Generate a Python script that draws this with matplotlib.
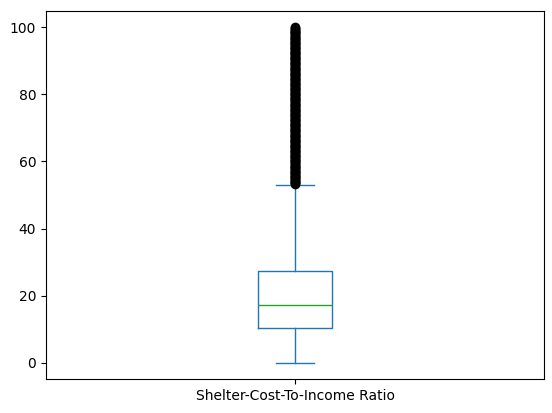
#!/usr/bin/env python3
import matplotlib
matplotlib.use('Agg')
import matplotlib.pyplot as plt

label = 'Shelter-Cost-To-Income Ratio'
whisker_low = 0.0
q1 = 10.2
median = 17.3
q3 = 27.3
whisker_high = 52.9
# outliers (they overlap into one solid bar)
fliers = [
    53.3, 53.5, 53.75, 54, 54.25, 54.5, 54.75, 55, 55.25, 55.5, 55.75,
    56, 56.25, 56.5, 56.75, 57, 57.25, 57.5, 57.75, 58, 58.25, 58.5, 58.75,
    59, 59.25, 59.5, 59.75, 60, 60.25, 60.5, 60.75, 61, 61.25, 61.5, 61.75,
    62, 62.25, 62.5, 62.75, 63, 63.25, 63.5, 63.75, 64, 64.25, 64.5, 64.75,
    65, 65.25, 65.5, 65.75, 66, 66.25, 66.5, 66.75, 67, 67.25, 67.5, 67.75,
    68, 68.25, 68.5, 68.75, 69, 69.25, 69.5, 69.75, 70, 70.25, 70.5, 70.75,
    71, 71.25, 71.5, 71.75, 72, 72.25, 72.5, 72.75, 73, 73.25, 73.5, 73.75,
    74, 74.25, 74.5, 74.75, 75, 75.25, 75.5, 75.75, 76, 76.25, 76.5, 76.75,
    77, 77.25, 77.5, 77.75, 78, 78.25, 78.5, 78.75, 79, 79.25, 79.5, 79.75,
    80, 80.25, 80.5, 80.75, 81, 81.25, 81.5, 81.75, 82, 82.25, 82.5, 82.75,
    83, 83.25, 83.5, 83.75, 84, 84.25, 84.5, 84.75, 85, 85.25, 85.5, 85.75,
    86, 86.25, 86.5, 86.75, 87, 87.25, 87.5, 87.75, 88, 88.25, 88.5, 88.75,
    89, 89.25, 89.5, 89.75, 90, 90.25, 90.5, 90.75, 91, 91.25, 91.5, 91.75,
    92, 92.25, 92.5, 92.75, 93, 93.25, 93.5, 93.75, 94, 94.25, 94.5, 94.75,
    95, 95.25, 95.5, 95.75, 96, 96.25, 96.5, 96.75, 97, 97.25, 97.5, 97.75,
    98, 98.25, 98.5, 98.75, 99, 99.25, 99.5, 99.75, 100,
]


def main():
    fig, ax = plt.subplots(figsize=(5.52, 4.13), dpi=100)
    fig.subplots_adjust(left=46 / 552, right=544 / 552,
                        top=1 - 10.7 / 413, bottom=1 - 379.3 / 413)
    stats = [{'label': label, 'whislo': whisker_low, 'q1': q1, 'med': median,
              'q3': q3, 'whishi': whisker_high, 'fliers': fliers}]
    ax.bxp(stats, widths=0.15, showfliers=True,
           boxprops=dict(color='#1f77b4'),
           whiskerprops=dict(color='#1f77b4'),
           capprops=dict(color='#1f77b4'),
           medianprops=dict(color='#2ca02c'),
           flierprops=dict(marker='o', markerfacecolor='none',
                           markeredgecolor='black'))
    ax.set_xlim(0.5, 1.5)
    ax.set_ylim(-5, 105)
    ax.set_yticks([0, 20, 40, 60, 80, 100])
    fig.savefig('out.png', dpi=100)


if __name__ == '__main__':
    main()
